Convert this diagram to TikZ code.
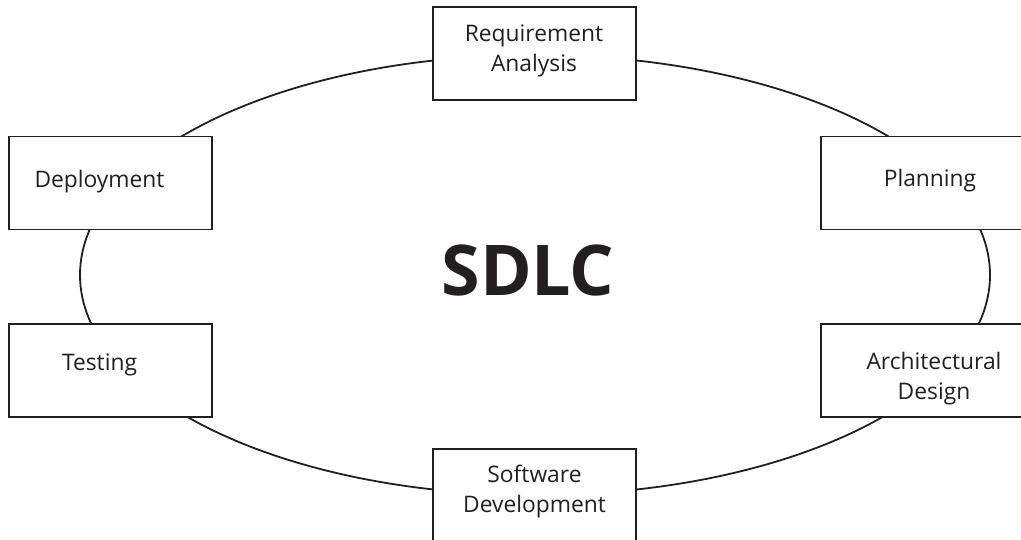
\documentclass[tikz,border=0pt]{standalone}
\usepackage{fontspec}
\setmainfont{Open Sans}
\definecolor{ink}{HTML}{231F20}
\begin{document}
\begin{tikzpicture}[x=1pt,y=-1pt,
  stagebox/.style={draw=ink,line width=1.8pt,fill=white,inner sep=0pt,minimum width=203pt,minimum height=93pt},
  stagetext/.style={text=ink,inner sep=0pt,align=center,font=\fontsize{22.8}{30}\selectfont},
  ring/.style={draw=ink,line width=1.8pt}]
\useasboundingbox (0,0) rectangle (1021,540);
\draw[ring] (535,275) ellipse [x radius=455pt, y radius=220pt];
\node[stagebox] (req) at (534.5,53.5) {};
\node[stagebox] (plan) at (922.5,183) {};
\node[stagebox] (arch) at (922.5,370.5) {};
\node[stagebox] (dev) at (534.5,495.5) {};
\node[stagebox] (test) at (110.5,370.5) {};
\node[stagebox] (depl) at (110.5,183) {};
\node[stagetext] (treq) at (534,51) {Requirement\\Analysis};
\node[stagetext] (tplan) at (930,181) {Planning};
\node[stagetext] (tarch) at (934,379) {Architectural\\Design};
\node[stagetext] (tdev) at (534.5,491.5) {Software\\Development};
\node[stagetext] (ttest) at (99.5,364.5) {Testing};
\node[stagetext] (tdepl) at (99.5,181.5) {Deployment};
\node[text=ink,inner sep=0pt,font=\fontsize{70}{70}\selectfont\bfseries] (sdlc) at (528,270) {SDLC};
\end{tikzpicture}
\end{document}
